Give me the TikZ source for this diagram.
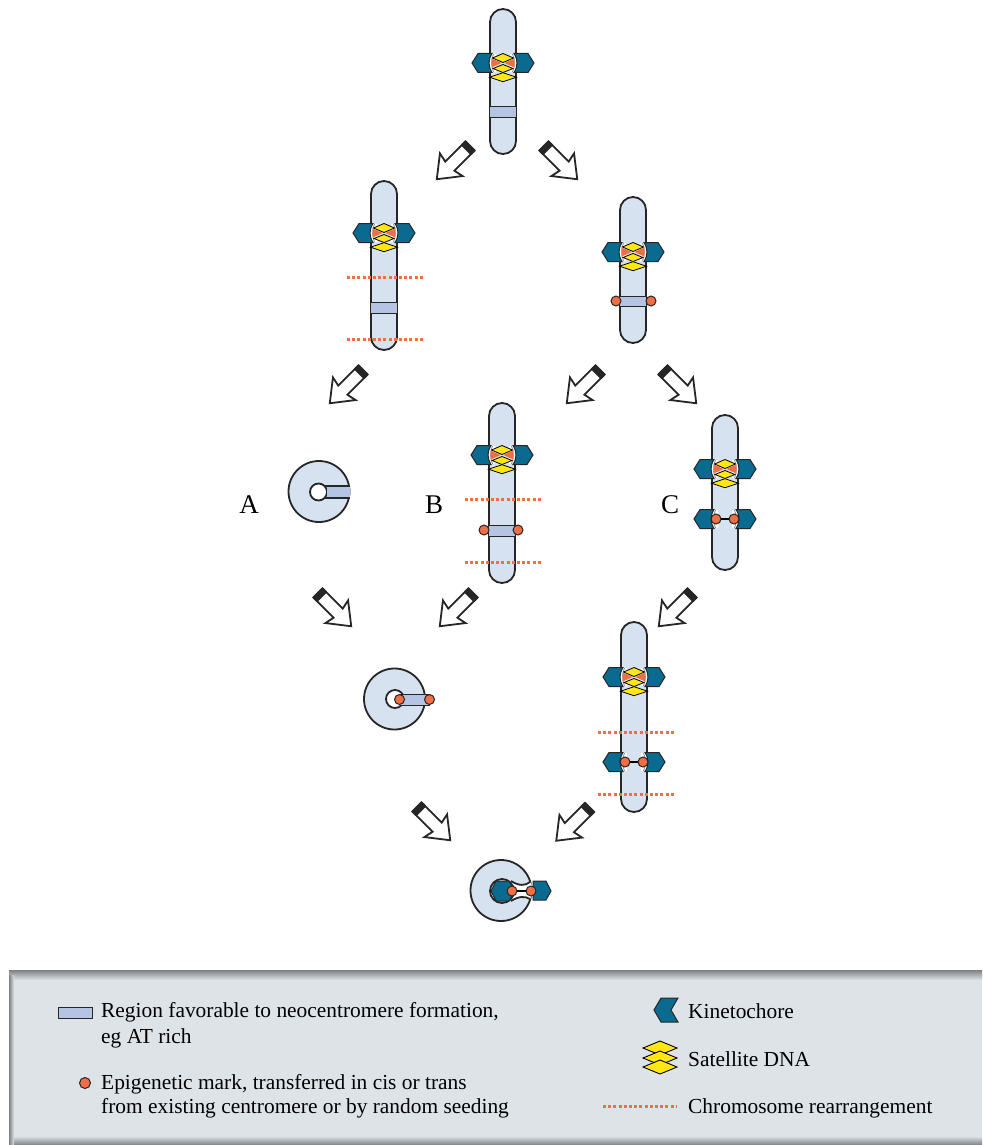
\documentclass[tikz,border=0pt]{standalone}
\usepackage{fontspec}
\setmainfont{Liberation Serif}
\definecolor{cchrom}{HTML}{D6E2EF}
\definecolor{cband}{HTML}{B4C4E2}
\definecolor{ckin}{HTML}{0B6A8F}
\definecolor{cyell}{HTML}{FFE614}
\definecolor{cmark}{HTML}{EE6F45}
\definecolor{cpanel}{HTML}{DDE3E7}
\definecolor{cedge}{HTML}{7E8184}
\tikzset{
  outline/.style={draw=black!85,line width=1.8pt},
  thinline/.style={draw=black!85,line width=1pt},
  rearr/.style={draw=cmark,line width=3pt,dash pattern=on 3pt off 2.2pt},
  legend/.style={anchor=base west,font=\fontsize{21.4}{21.4}\selectfont,inner sep=0pt},
  letter/.style={font=\fontsize{27}{27}\selectfont,inner sep=0pt},
  kinhalf/.pic={\fill[white] (-13,-9) .. controls (-16,-4) and (-16,4) .. (-13,9) -- (-7,9) -- (-7,-9) -- cycle;
    \draw[draw=black!45,line width=.8pt] (-9.5,-9) .. controls (-12,-3) and (-12,3) .. (-9.5,9);
    \draw[thinline,fill=ckin] (-31,0) -- (-25,-9.5) -- (-11,-9.5) .. controls (-15,-3) and (-15,3) .. (-11,9.5) -- (-25,9.5) -- cycle;},
  mark/.pic={\draw[thinline,fill=cmark] (0,0) circle (5);},
  sat/.pic={\foreach \yy/\ww/\hh in {-5/10.5/4.5,5.5/10/4,14.2/13.5/4.5}{\draw[draw=black,line width=.8pt,fill=cyell] (-\ww,\yy) -- (0,\yy-\hh) -- (\ww,\yy) -- (0,\yy+\hh) -- cycle;}},
  centro/.pic={\pic at (0,0) {kinhalf}; \pic[xscale=-1] at (0,0) {kinhalf}; \pic at (0,0) {sat};
    \fill[cmark] (-11.3,-4.5) -- (-1.5,0) -- (-11.3,4.5) -- cycle; \fill[cmark] (11.3,-4.5) -- (1.5,0) -- (11.3,4.5) -- cycle;},
  neo/.pic={\pic at (0,0) {kinhalf}; \pic[xscale=-1] at (0,0) {kinhalf}; \draw[black,line width=1.8pt] (-9,0) -- (9,0); \pic at (-9,0) {mark}; \pic at (9,0) {mark};},
  blockarrow/.pic={\draw[outline,line join=miter,fill=white] (0,-6.5) -- (28.5,-6.5) -- (26.5,-16) -- (47,0) -- (26.5,16) -- (28.5,6.5) -- (0,6.5) -- cycle;
    \fill[black!85,rounded corners=1pt] (-1,-7.4) rectangle (6,7.4);}
}
% chromosome body: centre x, top, bottom
\newcommand{\chrom}[3]{\draw[outline,fill=cchrom,rounded corners=13pt] (#1-13,#2) rectangle (#1+13,#3);}
% favourable band: centre x, upper and lower edge
\newcommand{\bandrow}[3]{\fill[cband] (#1-13,#2) rectangle (#1+13,#3); \draw[thinline] (#1-13,#2) -- (#1+13,#2) (#1-13,#3) -- (#1+13,#3);}
\begin{document}
\begin{tikzpicture}[x=1pt,y=-1pt]
  \useasboundingbox (0,0) rectangle (982,1145);
  \fill[white] (0,0) rectangle (982,1145);
  % arrows
  \foreach \xx/\yy in {470/146,363/370,600/370,692/593,473/593,589.5/807.5}{\pic[rotate=-135] at (\xx,\yy) {blockarrow};}
  \foreach \xx/\yy in {544/146,663/370,318/593,417/807}{\pic[rotate=-45] at (\xx,\yy) {blockarrow};}
  % top chromosome
  \chrom{503}{9}{154} \bandrow{503}{107}{118} \pic at (503,63) {centro};
  % left branch
  \chrom{384}{181}{350} \bandrow{384}{302}{313} \pic at (384,233) {centro};
  \draw[rearr] (347,277) -- (423,277); \draw[rearr] (347,339) -- (423,339);
  % right branch
  \chrom{633}{197}{343} \bandrow{633}{296}{306} \pic at (633,252) {centro};
  \pic at (616,301) {mark}; \pic at (651,301) {mark};
  % B
  \chrom{502}{403}{583} \bandrow{502}{525}{536} \pic at (502,455) {centro};
  \pic at (484,530) {mark}; \pic at (518,530) {mark};
  \draw[rearr] (465,499) -- (541,499); \draw[rearr] (465,562) -- (541,562);
  % C
  \chrom{725}{415}{570} \pic at (725,469) {centro}; \pic at (725,519) {neo};
  % lower chromosome
  \chrom{634}{622}{812} \pic at (634,677) {centro}; \pic at (634,762) {neo};
  \draw[rearr] (598,732) -- (674,732); \draw[rearr] (598,794) -- (674,794);
  % ring A
  \draw[outline,fill=cchrom] (319,491.5) circle (30.5);
  \draw[outline,fill=white] (318.5,492) circle (8.5);
  \fill[cband] (327,486) rectangle (350,498);
  \draw[outline,line width=1.5pt] (325,486) -- (349.5,486) (325,498) -- (349.5,498);
  % ring with marks
  \draw[outline,fill=cchrom] (394.5,699) circle (30.5);
  \draw[outline,fill=white] (395,699) circle (9);
  \fill[cband] (400,695) rectangle (430,705);
  \draw[thinline] (400,694.5) -- (430,694.5) (400,705) -- (430,705);
  \pic at (399.5,699.5) {mark}; \pic at (429.5,699.5) {mark};
  % closed ring with two kinetochores
  \draw[outline,fill=cchrom] (501,890.5) circle (30.5);
  \fill[white] (530,882) .. controls (525,886) and (519,886) .. (511,881) -- (511,901) .. controls (519,896) and (525,896) .. (530,899) -- (535,890) -- cycle;
  \draw[outline] (530,882) .. controls (525,886) and (519,886) .. (511,881);
  \draw[outline] (530,899) .. controls (525,896) and (519,896) .. (511,901);
  \draw[outline,fill=white] (502,891) circle (12);
  \draw[thinline,fill=ckin] (491,891) -- (496,881) -- (509,881) -- (515,891) -- (509,901) -- (496,901) -- cycle;
  \draw[thinline,fill=ckin] (551,891) -- (546,881) -- (533,881) -- (533,900) -- (546,900) -- cycle;
  \draw[black,line width=1.8pt] (512,891) -- (531,891);
  \pic at (512,891) {mark}; \pic at (531,891) {mark};
  % panel labels
  \node[letter] (labelA) at (249,505) {A};
  \node[letter] (labelB) at (434,505) {B};
  \node[letter] (labelC) at (670,505) {C};
  % legend
  \fill[cpanel] (9,970) rectangle (982,1145);
  \shade[top color=cedge,bottom color=cpanel] (9,970) rectangle (982,980);
  \shade[bottom color=cedge,top color=cpanel] (14,1136) rectangle (982,1145);
  \shade[left color=cedge,right color=cpanel] (9,975) rectangle (14,1145);
  \draw[thinline,fill=cband] (58,1007) rectangle (92,1018);
  \node[legend] (favtext) at (101,1017) {Region favorable to neocentromere formation,};
  \node[legend] (favtext2) at (101,1043) {eg AT rich};
  \draw[thinline,fill=cmark] (85,1083) circle (5.5);
  \node[legend] (marktext) at (101,1089) {Epigenetic mark, transferred in cis or trans};
  \node[legend] (marktext2) at (101,1113) {from existing centromere or by random seeding};
  \draw[thinline,fill=ckin] (654,1010) -- (661,998) -- (678,998) -- (671,1010) -- (678,1022) -- (661,1022) -- cycle;
  \node[legend] (kintext) at (688,1018) {Kinetochore};
  \foreach \yy in {1048,1058,1067}{\draw[draw=black,line width=.9pt,fill=cyell] (643,\yy) -- (660,\yy-7) -- (677,\yy) -- (660,\yy+7) -- cycle;}
  \node[legend] (sattext) at (688,1066) {Satellite DNA};
  \draw[rearr] (603,1106) -- (677,1106);
  \node[legend] (rearrtext) at (688,1113) {Chromosome rearrangement};
\end{tikzpicture}
\end{document}
